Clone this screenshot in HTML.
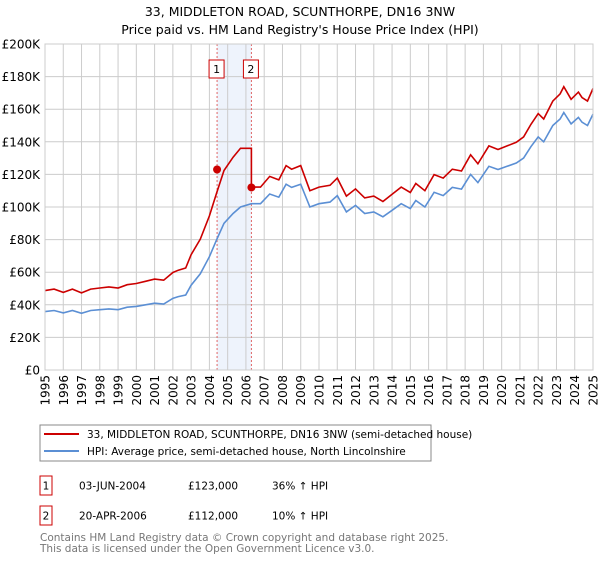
<!DOCTYPE html>
<html><head><meta charset="utf-8"><style>
body{margin:0;background:#fff;font-family:"Liberation Sans","DejaVu Sans",sans-serif;}
svg text{font-family:"DejaVu Sans","Liberation Sans",sans-serif;}
</style></head><body>
<svg id="c" width="600" height="560" xmlns="http://www.w3.org/2000/svg">
<text x="300" y="16" text-anchor="middle" font-size="12.5">33, MIDDLETON ROAD, SCUNTHORPE, DN16 3NW</text>
<text x="300" y="34" text-anchor="middle" font-size="12.5">Price paid vs. HM Land Registry's House Price Index (HPI)</text>
<g id="grid"></g><g id="series"></g><g id="axes"></g>
<rect x="40" y="425" width="391" height="36" fill="#fff" stroke="#888"/>
<line x1="44" y1="434" x2="79" y2="434" stroke="#cc0000" stroke-width="2"/>
<text x="87" y="438" font-size="10.5">33, MIDDLETON ROAD, SCUNTHORPE, DN16 3NW (semi-detached house)</text>
<line x1="44" y1="451" x2="79" y2="451" stroke="#5b8fd4" stroke-width="2"/>
<text x="87" y="455" font-size="10.5">HPI: Average price, semi-detached house, North Lincolnshire</text>
<rect x="40" y="476" width="12" height="19" fill="none" stroke="#cc0000"/>
<text x="46" y="489.5" text-anchor="middle" font-size="10.5">1</text>
<text x="79" y="489.5" font-size="10.5">03-JUN-2004</text>
<text x="188" y="489.5" font-size="10.5">£123,000</text>
<text x="272" y="489.5" font-size="10.5">36% ↑ HPI</text>
<rect x="40" y="506" width="12" height="19" fill="none" stroke="#cc0000"/>
<text x="46" y="519.5" text-anchor="middle" font-size="10.5">2</text>
<text x="79" y="519.5" font-size="10.5">20-APR-2006</text>
<text x="188" y="519.5" font-size="10.5">£112,000</text>
<text x="272" y="519.5" font-size="10.5">10% ↑ HPI</text>
<text x="40" y="541" font-size="10.5" fill="#777">Contains HM Land Registry data © Crown copyright and database right 2025.</text>
<text x="40" y="552" font-size="10.5" fill="#777">This data is licensed under the Open Government Licence v3.0.</text>
</svg>
<script>
const yTicks=[0,20,40,60,80,100,120,140,160,180,200];
const yTickLabels=["£0","£20K","£40K","£60K","£80K","£100K","£120K","£140K","£160K","£180K","£200K"];
const years=[1995,1996,1997,1998,1999,2000,2001,2002,2003,2004,2005,2006,2007,2008,2009,2010,2011,2012,2013,2014,2015,2016,2017,2018,2019,2020,2021,2022,2023,2024,2025];
const hpiDates=[1995,1995.5,1996,1996.5,1997,1997.5,1998,1998.5,1999,1999.5,2000,2000.5,2001,2001.5,2002,2002.3,2002.7,2003,2003.5,2004,2004.4,2004.8,2005.3,2005.7,2006.3,2006.8,2007.3,2007.8,2008.2,2008.5,2009,2009.5,2010,2010.6,2011,2011.5,2012,2012.5,2013,2013.5,2014,2014.5,2015,2015.3,2015.8,2016.3,2016.8,2017.3,2017.8,2018.3,2018.7,2019.3,2019.8,2020.3,2020.8,2021.2,2021.6,2022,2022.3,2022.8,2023.2,2023.4,2023.8,2024.2,2024.4,2024.7,2025];
const hpiValues=[35.8,36.5,35,36.5,34.8,36.5,37,37.5,37,38.5,39,40,41,40.5,44,45,46,52,59,69.5,80,90,96,100,102,102,108,106,114,112,114,100,102,103,107,97,101,96,97,94,98,102,99,104,100,109,107,112,111,120,115,125,123,125,127,130,137,143,140,150,154,158,151,155,152,150,157,159];
const saleDates=[2004.42,2006.3];
const salePrices=[123,112];
const ratios=[1.36,1.10];
const X=y=>45+(y-1995)*(548/30), Y=v=>370-v*1.63;
const ns="http://www.w3.org/2000/svg";
function mk(t,a,p){const e=document.createElementNS(ns,t);for(const k in a)e.setAttribute(k,a[k]);p.appendChild(e);return e;}
const g=document.getElementById('grid'),s=document.getElementById('series'),ax=document.getElementById('axes');
const shade=mk('rect',{x:X(saleDates[0]),y:Y(200),width:X(saleDates[1])-X(saleDates[0]),height:Y(0)-Y(200),fill:'#eef3fc'},g);


yTicks.forEach((v,i)=>{
 const l=mk('line',{x1:45,x2:X(2025),y1:Y(v),y2:Y(v),stroke:'#ccc'},g);
 
 
 const t=mk('text',{x:40,y:Y(v)+4.5,'text-anchor':'end','font-size':'12'},ax);t.textContent=yTickLabels[i];
 
 
});
years.forEach(y=>{
 const l=mk('line',{x1:X(y),x2:X(y),y1:Y(200),y2:Y(0),stroke:'#ccc'},g);
 
 
 const t=mk('text',{x:0,y:0,'font-size':'12','text-anchor':'end',transform:`translate(${X(y)+4.5},375) rotate(-90)`},ax);t.textContent=y;
 
 
});
saleDates.forEach((d,i)=>{
 const l=mk('line',{x1:X(d),x2:X(d),y1:Y(200),y2:Y(0),stroke:'#e06666','stroke-dasharray':'2,2'},g);
 
 
 const bx=X(d)-8;
 const r=mk('rect',{x:bx,y:60,width:15,height:18,fill:'#fff',stroke:'#cc0000'},g);
 
 
 const t=mk('text',{x:bx+7.5,y:73,'text-anchor':'middle','font-size':'11'},g);t.textContent=String(i+1);
});
const hp=hpiDates.map((d,i)=>X(d).toFixed(1)+','+Y(hpiValues[i]).toFixed(1)).join(' ');
const hl=mk('polyline',{points:hp,fill:'none',stroke:'#5b8fd4','stroke-width':1.6},s);


const rp=[];
hpiDates.forEach((d,i)=>{
 if(d<saleDates[1]) rp.push([d,hpiValues[i]*ratios[0]]);
 else { if(rp.length&&rp[rp.length-1][0]<saleDates[1]){rp.push([saleDates[1],hpiValues[i-1]*ratios[0]]);rp.push([saleDates[1],salePrices[1]]);} rp.push([d,hpiValues[i]*ratios[1]]); }
});
const rl=mk('polyline',{points:rp.map(p=>X(p[0]).toFixed(1)+','+Y(p[1]).toFixed(1)).join(' '),fill:'none',stroke:'#cc0000','stroke-width':1.6},s);


saleDates.forEach((d,i)=>{
 const c=mk('circle',{cx:X(d),cy:Y(salePrices[i]),r:4,fill:'#cc0000'},s);
 
 
});
const f=mk('rect',{x:45,y:Y(200),width:X(2025)-45,height:Y(0)-Y(200),fill:'none',stroke:'#ccc'},ax);


</script>
</body></html>
